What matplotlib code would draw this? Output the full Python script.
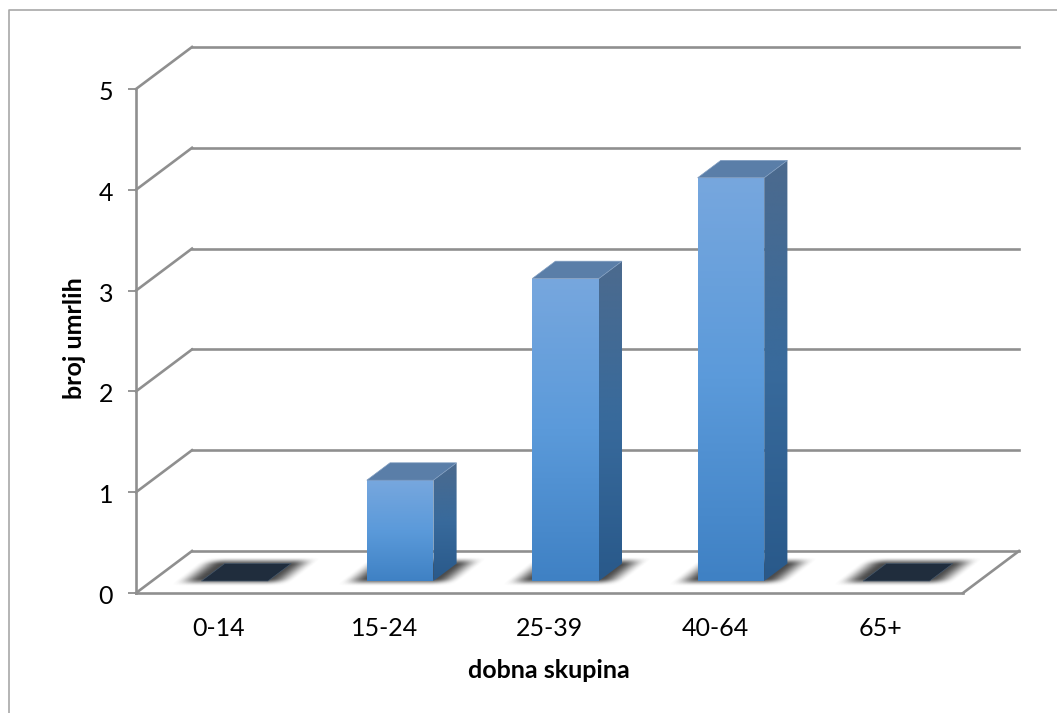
import numpy as np
import matplotlib
matplotlib.use("Agg")
import matplotlib.pyplot as plt
from matplotlib.colors import LinearSegmentedColormap
from matplotlib.lines import Line2D
from matplotlib.patches import Polygon
from matplotlib.transforms import ScaledTranslation

categories = ["0-14", "15-24", "25-39", "40-64", "65+"]
deaths = [0, 1, 3, 4, 0]
value_ticks = [0, 1, 2, 3, 4, 5]
x_title = "dobna skupina"
y_title = "broj umrlih"

W, H = 1057, 713
plt.rcParams["font.family"] = ["Lato", "DejaVu Sans"]
FS = 18

fig = plt.figure(figsize=(W / 100, H / 100), dpi=100, facecolor="white")
# Front plane of the chart box, given in pixels
L, R, B, T = 136, 963, 593, 89
ax = fig.add_axes([L / W, 1 - B / H, (R - L) / W, (B - T) / H], facecolor="none")
ax.set_xlim(-0.5, 4.5)
ax.set_ylim(0, 5)
for s in ax.spines.values():
    s.set_visible(False)

# Oblique projection: depth d in 0..1 shifts right and up
UX = (R - L) / 5
UY = (B - T) / 5
DEPTH_X = 56 / UX
DEPTH_Y = 42 / UY


def proj(x, v, d=0.0):
    return x + DEPTH_X * d, v + DEPTH_Y * d


GRID = "#8f8f8f"
GLW = 1.9


def edge(p, q, z=1):
    ax.add_line(Line2D([p[0], q[0]], [p[1], q[1]], color=GRID, lw=GLW, clip_on=False,
                       zorder=z, solid_capstyle="projecting"))


x0, x1 = -0.5, 4.5
for v in value_ticks:
    edge(proj(x0, v), proj(x0, v, 1))
    edge(proj(x0, v, 1), proj(x1, v, 1))
edge(proj(x0, 0), proj(x1, 0))
edge(proj(x1, 0), proj(x1, 0, 1))
edge(proj(x0, 0), proj(x0, 5))

# Bar geometry along the category and depth directions
HALF = 33.3 / UX
D0, D1 = 0.286, 0.70

front_cmap = LinearSegmentedColormap.from_list("front", ["#77a7de", "#5b9ada", "#3f81c4"])
side_cmap = LinearSegmentedColormap.from_list("side", ["#4c6a8e", "#386a9c", "#29598a"])
grad = np.linspace(0, 1, 256).reshape(-1, 1)


def gradient_face(pts, cmap, z):
    pts = np.array(pts)
    im = ax.imshow(grad, cmap=cmap, aspect="auto", zorder=z, interpolation="bilinear",
                   extent=(pts[:, 0].min(), pts[:, 0].max(), pts[:, 1].min(), pts[:, 1].max()),
                   origin="upper")
    clip = Polygon(pts, closed=True, transform=ax.transData)
    im.set_clip_path(clip)
    return im


def smooth(t):
    t = np.clip(t, 0, 1)
    return t * t * (3 - 2 * t)


def shadow(c):
    # Soft floor shadow: a sheared box with feathered edges, rendered as an RGBA image
    cx, cv = proj(c, 0, (D0 + D1) / 2)
    half_w, half_h = 85 / UX, 22 / UY
    xs = np.linspace(cx - half_w, cx + half_w, 340)
    vs = np.linspace(cv - half_h, cv + half_h, 88)
    gx, gv = np.meshgrid(xs, vs)
    dy = (gv - cv) * UY
    dx = (gx - cx) * UX - 1.3 * dy
    a_x = smooth((60 - np.abs(dx)) / 26)
    a_y = smooth((14.5 - np.abs(dy)) / 8)
    rgba = np.zeros(gx.shape + (4,))
    rgba[..., :3] = 0.2
    rgba[..., 3] = 0.88 * a_x * a_y
    ax.imshow(rgba, aspect="auto", zorder=2, origin="lower", interpolation="bilinear",
              extent=(xs[0], xs[-1], vs[0], vs[-1]), clip_on=False)


for c, val in enumerate(deaths):
    shadow(c)
    xa, xb = c - HALF, c + HALF
    top = [proj(xa, val, D0), proj(xb, val, D0), proj(xb, val, D1), proj(xa, val, D1)]
    if val == 0:
        ax.add_patch(Polygon(top, closed=True, fc="#202d3d", ec="#46586c", lw=0.5, zorder=4))
        continue
    front = [proj(xa, 0, D0), proj(xb, 0, D0), proj(xb, val, D0), proj(xa, val, D0)]
    side = [proj(xb, 0, D0), proj(xb, 0, D1), proj(xb, val, D1), proj(xb, val, D0)]
    gradient_face(side, side_cmap, 4)
    gradient_face(front, front_cmap, 5)
    ax.add_patch(Polygon(top, closed=True, fc="#5a7ea8", ec="#7f9cc0", lw=0.5, zorder=5))

ax.set_xlim(-0.5, 4.5)
ax.set_ylim(0, 5)

ax.set_xticks(range(len(categories)), categories)
ax.set_yticks(value_ticks)
ax.tick_params(axis="x", length=0, pad=17, labelsize=FS, colors="black")
ax.tick_params(axis="y", length=5.5, width=1.3, color=GRID, pad=11, labelsize=FS)
nudge = ScaledTranslation(0, -1.5 / 100, fig.dpi_scale_trans)
for lab in ax.get_yticklabels():
    lab.set_transform(lab.get_transform() + nudge)
ax.set_xlabel(x_title, fontsize=FS, fontweight="bold")
ax.xaxis.set_label_coords((549 - L) / (R - L), -(671 - B) / (B - T), transform=ax.transAxes)
ax.xaxis.label.set_verticalalignment("center")
ax.set_ylabel(y_title, fontsize=FS, fontweight="bold")
ax.yaxis.set_label_coords((75 - L) / (R - L), (B - 338) / (B - T), transform=ax.transAxes)
ax.yaxis.label.set_verticalalignment("center")

# Chart-area border, running off the top and right of the canvas
fig.add_artist(Line2D([9 / W, 9 / W, 1], [0, 1 - 10 / H, 1 - 10 / H], color="#a8a8a8", lw=1.2))

fig.savefig("out.png", dpi=100, facecolor="white")
